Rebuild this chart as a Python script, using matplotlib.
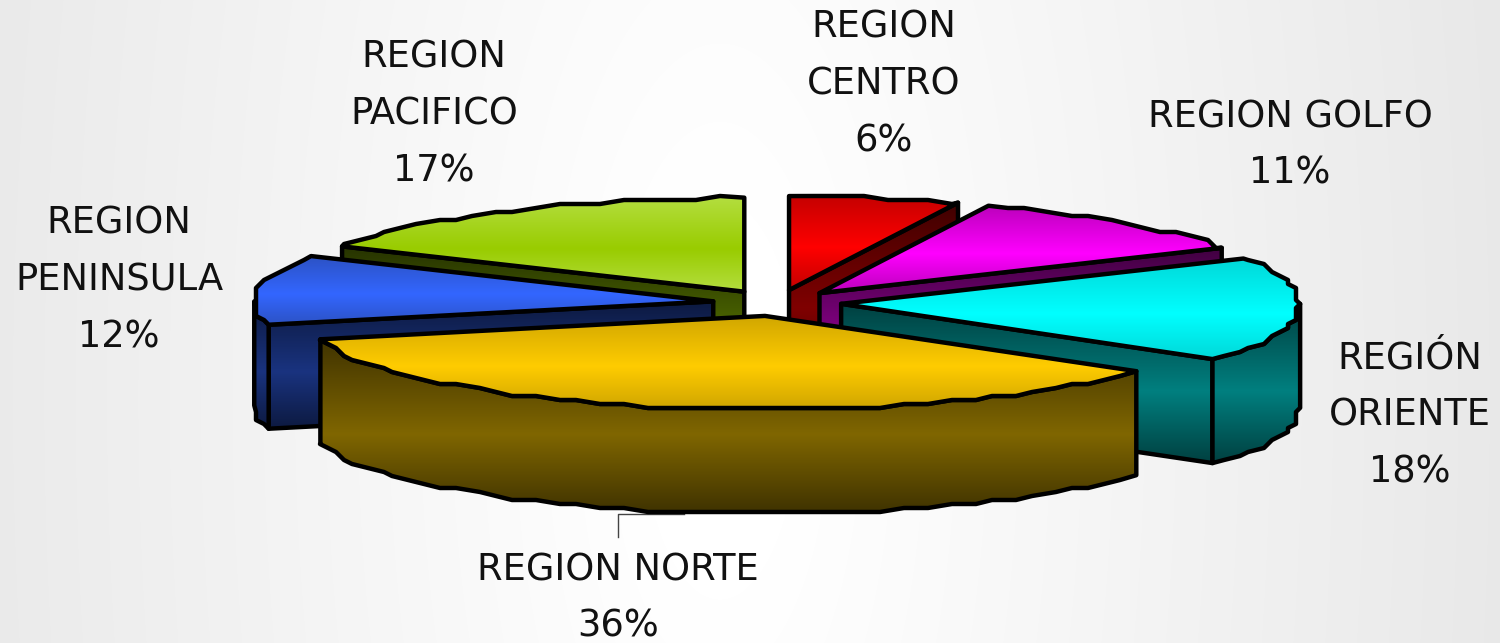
import matplotlib
matplotlib.use('Agg')
import matplotlib.pyplot as plt
import numpy as np
from matplotlib.patches import Polygon

# data
regions = ['REGION\nCENTRO', 'REGION GOLFO', 'REGIÓN\nORIENTE', 'REGION NORTE', 'REGION\nPENINSULA', 'REGION\nPACIFICO']
values = [6, 11, 18, 36, 12, 17]
colors = ['#ff0000', '#ff00ff', '#00ffff', '#ffcc00', '#3366ff', '#99cc00']
edge_colors = ['#c40000', '#bb00bb', '#00d8d8', '#d0a600', '#2c52c4', '#b4de40']
label_xy = [(884, 84), (1290, 145), (1410, 415), (618, 598), (119, 280), (434, 114)]
draw_order = [5, 4, 0, 1, 2, 3]

# pie geometry, in pixels
cx, cy = 777, 303
rx, ry = 459, 94
depth = 104
explode = 0.14

fig = plt.figure(figsize=(15, 6.43), dpi=100)
ax = fig.add_axes([0, 0, 1, 1])
ax.set_xlim(0, 1500)
ax.set_ylim(643, 0)
ax.axis('off')

# background
xx, yy = np.meshgrid(np.linspace(0, 1500, 1500), np.linspace(0, 643, 643))
dist = np.sqrt(((xx - 720) / 800) ** 2 + ((yy - 400) / 2000) ** 2)
bg = np.clip(1 - 0.10 * np.clip(dist - 0.1, 0, None), 0, 1)
ax.imshow(np.dstack([bg, bg, bg]), extent=[0, 1500, 643, 0], aspect='auto', zorder=0)


def arc(c, t0, t1):
    # jagged arc on a fixed angle grid, the reference has a coarse stepped outline
    grid = np.arange(0, 361, 3.0)
    t = np.concatenate([[t0], grid[(grid > t0 + 0.5) & (grid < t1 - 0.5)], [t1]])
    x = c[0] + rx * np.sin(np.radians(t))
    y = c[1] - ry * np.cos(np.radians(t))
    x[1:-1] = np.clip(np.round(x[1:-1] / 8) * 8, c[0] - rx, c[0] + rx)
    y[1:-1] = np.round(y[1:-1] / 4) * 4
    return np.column_stack([x, y])


def gradient(pts, top, mid, z):
    # vertical gradient clipped on the polygon, then the black outline
    top = np.array(matplotlib.colors.to_rgb(top))
    mid = np.array(matplotlib.colors.to_rgb(mid))
    s = np.linspace(0, 1, 256)
    w = np.where(s < 0.55, s / 0.55, (1 - s) / 0.45)[:, None]
    img = (top * (1 - w) + mid * w)[:, None, :]
    x0, y0 = pts.min(axis=0)
    x1, y1 = pts.max(axis=0)
    patch = Polygon(pts, closed=True, fc='none', ec='none', transform=ax.transData)
    ax.add_patch(patch)
    im = ax.imshow(img, extent=[x0, x1, y1, y0], aspect='auto', zorder=z)
    im.set_clip_path(patch)
    ax.add_patch(Polygon(pts, closed=True, fc='none', ec='black', lw=3.2, joinstyle='round', zorder=z + 0.1))


def dark(col, f):
    return tuple(np.array(matplotlib.colors.to_rgb(col)) * f)


fracs = np.array(values) / sum(values) * 360
starts = np.concatenate([[0], np.cumsum(fracs)[:-1]])

for k, i in enumerate(draw_order):
    t0, t1 = starts[i], starts[i] + fracs[i]
    m = np.radians((t0 + t1) / 2)
    c = (cx + explode * rx * np.sin(m), cy - explode * ry * np.cos(m))
    rim = arc(c, t0, t1)
    z = 2 + k

    # radial wall facing the viewer
    if regions[i] != 'REGION NORTE':
        end = rim[-1] if m < np.pi else rim[0]
        wall = np.array([c, end, end + [0, depth], [c[0], c[1] + depth]])
        gradient(wall, dark(colors[i], 0.25), dark(colors[i], 0.5), z)

    # outer rim, only the near half of the ellipse
    a0, a1 = max(t0, 90), min(t1, 270)
    if a1 > a0:
        front = arc(c, a0, a1)
        side = np.vstack([front, front[::-1] + [0, depth]])
        gradient(side, dark(colors[i], 0.25), dark(colors[i], 0.5), z + 0.2)

    # top face
    gradient(np.vstack([[c], rim]), edge_colors[i], colors[i], z + 0.4)

    # labels
    ax.text(label_xy[i][0], label_xy[i][1], f'{regions[i]}\n{values[i]}%',
            ha='center', va='center', fontsize=26.5, color='#111111', linespacing=1.68,
            family='DejaVu Sans', zorder=20)

# leader line of REGION NORTE
ax.plot([618, 618, 684], [537, 514, 514], color='#444444', lw=1, zorder=1)

fig.savefig('out.png', dpi=100)
